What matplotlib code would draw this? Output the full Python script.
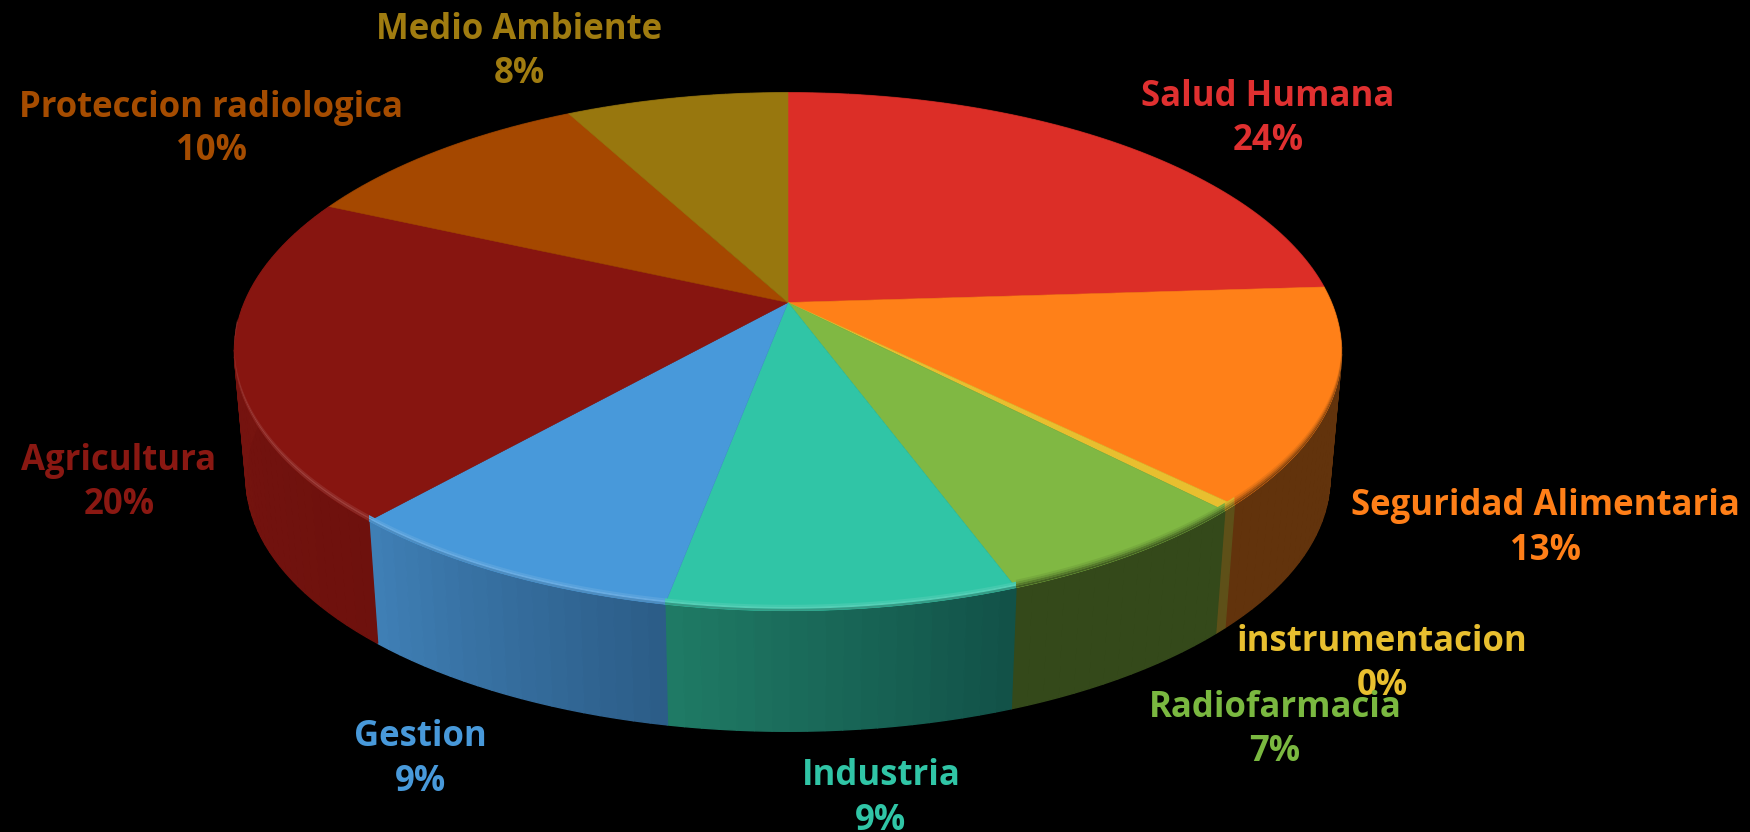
import numpy as np
import matplotlib
matplotlib.use('Agg')
import matplotlib.pyplot as plt
from matplotlib.colors import to_rgb

#slices clockwise from 12 o'clock
names = ['Salud Humana', 'Seguridad Alimentaria', 'instrumentacion', 'Radiofarmacia',
         'Industria', 'Gestion', 'Agricultura', 'Proteccion radiologica', 'Medio Ambiente']
values = [24.0, 13.4, 0.4, 6.6, 8.55, 8.55, 20.3, 10.4, 7.8]

top_colors = ['#dc2e27', '#ff8018', '#e8bf2f', '#80b843', '#30c5a6',
              '#4899da', '#871510', '#a54800', '#98770e']
text_colors = ['#e03030', '#ff7f18', '#e8bf2f', '#7ab840', '#30c5a6',
               '#4899da', '#8a1812', '#a54c00', '#a07c10']
#wall colour at the start and the end of each slice
wall_start = ['#6b1815', '#62330c', '#5e5018', '#34491a', '#125248',
              '#2c5d88', '#6e110d', '#5a2800', '#54420a']
wall_end = ['#6b1815', '#62330c', '#5e5018', '#34491a', '#1f7a65',
            '#3f7fb5', '#7a1510', '#5a2800', '#54420a']

#label centres in pixels (name line, percent line)
label_pos = [(1268, 97, 141), (1545, 506, 551), (1382, 642, 686), (1275, 708, 752),
             (881, 776, 821), (420, 737, 782), (119, 461, 505), (211, 108, 151), (519, 30, 74)]

#perspective of the disc
cx, cy = 788, 302.5
R, B, k = 543.5, 249.7, 0.19
shrink, vanish = 0.979, 6350


def project(t, r=1.0):
    x = r * np.sin(t)
    y = r * np.cos(t)
    w = 1 + k * y
    return cx + R * x / w, cy - B * y / w


def lower(xs, ys):
    #bottom disc, same rim pulled towards the vanishing point
    return cx + shrink * (xs - cx), vanish + shrink * (ys - vanish)


def mix(c1, c2, a):
    c1 = np.array(to_rgb(c1))
    c2 = np.array(to_rgb(c2))
    return tuple(c1 * (1 - a) + c2 * a)


fig = plt.figure(figsize=(17.5, 8.32), dpi=100, facecolor='black')
ax = fig.add_axes([0, 0, 1, 1])
ax.set_xlim(0, 1750)
ax.set_ylim(832, 0)
ax.axis('off')

edges = np.radians(np.concatenate([[0], np.cumsum(values)]) * 360 / sum(values))

#walls first, the top covers whatever is behind
for i in range(len(values)):
    n = max(int((edges[i + 1] - edges[i]) / np.radians(1.5)), 1)
    ts = np.linspace(edges[i], edges[i + 1], n + 1)
    for j in range(n):
        seg = np.linspace(ts[j], ts[j + 1], 4)
        xs, ys = project(seg)
        xl, yl = lower(xs, ys)
        col = mix(wall_start[i], wall_end[i], j / max(n - 1, 1))
        ax.fill(np.r_[xs, xl[::-1]], np.r_[ys, yl[::-1]], color=col, lw=1.0, zorder=1)

#top of the pie
for i in range(len(values)):
    ts = np.linspace(edges[i], edges[i + 1], 80)
    xs, ys = project(ts)
    ax.fill(np.r_[cx, xs], np.r_[cy, ys], color=top_colors[i], lw=0.4, zorder=2)

#soft bevel along the front rim: shadow on the right, highlight on the left
for i in range(len(values)):
    lo = max(edges[i], np.radians(100))
    hi = min(edges[i + 1], np.radians(265))
    if hi <= lo:
        continue
    ts = np.linspace(lo, hi, 70)
    xs, ys = project(ts)
    wall = mix(wall_start[i], wall_end[i], 0.5)
    if i < 4:
        steps = [(8, 6, 0.12), (6, 4, 0.3), (4, 2, 0.55), (2, 0, 0.8)]
        for a, b, m in steps:
            ax.fill(np.r_[xs, xs[::-1]], np.r_[ys - a, ys[::-1] - b],
                    color=mix(top_colors[i], wall, m), lw=0, zorder=3)
    else:
        light = mix(top_colors[i], 'white', 0.18)
        steps = [(6, 4, top_colors[i], light, 0.5), (4, 2, top_colors[i], light, 1.0),
                 (2, 0, wall, light, 0.5)]
        for a, b, c1, c2, m in steps:
            ax.fill(np.r_[xs, xs[::-1]], np.r_[ys - a, ys[::-1] - b],
                    color=mix(c1, c2, m), lw=0, zorder=3)

for i in range(len(values)):
    px, y1, y2 = label_pos[i]
    ax.text(px, y1, names[i], color=text_colors[i], ha='center', va='center',
            fontsize=25, family='Open Sans', fontweight='bold', zorder=5)
    ax.text(px, y2, '%.0f%%' % values[i], color=text_colors[i], ha='center', va='center',
            fontsize=25, family='Open Sans', fontweight='bold', zorder=5)

fig.savefig('out.png', dpi=100, facecolor='black')
